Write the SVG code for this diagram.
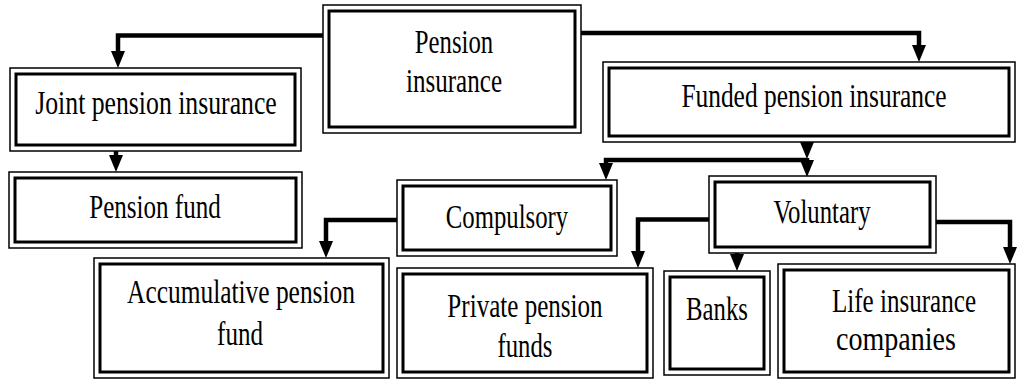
<svg xmlns="http://www.w3.org/2000/svg" width="1017" height="381" viewBox="0 0 1017 381">
<style>
.o{fill:#fff;stroke:#000;stroke-width:1.5}
.i{fill:none;stroke:#000;stroke-width:3}
.t{font-family:"Liberation Serif","Times New Roman",serif;font-size:33px;fill:#000;text-anchor:middle}
.c{fill:none;stroke:#000;stroke-width:4.5;stroke-linejoin:miter}
</style>
<defs>
<marker id="ah" markerUnits="userSpaceOnUse" markerWidth="17" markerHeight="14" refX="1" refY="7" orient="auto">
<path d="M0,0 L17,7 L0,14 z" fill="#000"/>
</marker>
</defs>
<rect width="1017" height="381" fill="#fff"/>
<g id="connectors">
<path class="c" d="M325,35.5 H118 V52" marker-end="url(#ah)"/>
<path class="c" d="M580,33 H919 V46" marker-end="url(#ah)"/>
<path class="c" d="M116,151 V156" marker-end="url(#ah)"/>
<path class="c" d="M807,142 V143" marker-end="url(#ah)"/>
<path class="c" d="M807,160 H606 V164" marker-end="url(#ah)"/>
<path class="c" d="M807,158 V161" marker-end="url(#ah)"/>
<path class="c" d="M398,220 H326 V242" marker-end="url(#ah)"/>
<path class="c" d="M710,219.5 H638 V252" marker-end="url(#ah)"/>
<path class="c" d="M737,253 V255" marker-end="url(#ah)"/>
<path class="c" d="M935,222 H1010 V248" marker-end="url(#ah)"/>
</g>
<g id="pension-insurance">
<rect class="o" x="323" y="5" width="258" height="128"/>
<rect class="i" x="329" y="11" width="246" height="116"/>
<text class="t" transform="translate(454,53) scale(0.75,1)">Pension</text>
<text class="t" transform="translate(454,92) scale(0.76,1)">insurance</text>
</g>
<g id="joint-pension-insurance">
<rect class="o" x="10" y="68" width="291" height="83"/>
<rect class="i" x="16" y="74" width="279" height="71"/>
<text class="t" transform="translate(156,114) scale(0.78,1)">Joint pension insurance</text>
</g>
<g id="pension-fund">
<rect class="o" x="9" y="172" width="293" height="76"/>
<rect class="i" x="15" y="178" width="281" height="64"/>
<text class="t" transform="translate(155,218) scale(0.76,1)">Pension fund</text>
</g>
<g id="funded-pension-insurance">
<rect class="o" x="603" y="62" width="412" height="80"/>
<rect class="i" x="609" y="68" width="400" height="68"/>
<text class="t" transform="translate(814,107) scale(0.77,1)">Funded pension insurance</text>
</g>
<g id="compulsory">
<rect class="o" x="397" y="180" width="220" height="76"/>
<rect class="i" x="403" y="186" width="208" height="64"/>
<text class="t" transform="translate(507,228) scale(0.75,1)">Compulsory</text>
</g>
<g id="voluntary">
<rect class="o" x="709" y="176" width="227" height="77"/>
<rect class="i" x="715" y="182" width="215" height="65"/>
<text class="t" transform="translate(822,223) scale(0.75,1)">Voluntary</text>
</g>
<g id="accumulative-pension-fund">
<rect class="o" x="94" y="258" width="295" height="120"/>
<rect class="i" x="100" y="264" width="283" height="108"/>
<text class="t" transform="translate(241,303) scale(0.77,1)">Accumulative pension</text>
<text class="t" transform="translate(240,345) scale(0.76,1)">fund</text>
</g>
<g id="private-pension-funds">
<rect class="o" x="397" y="268" width="256" height="110"/>
<rect class="i" x="403" y="274" width="244" height="98"/>
<text class="t" transform="translate(525,317) scale(0.76,1)">Private pension</text>
<text class="t" transform="translate(525,357) scale(0.75,1)">funds</text>
</g>
<g id="banks">
<rect class="o" x="664" y="271" width="106" height="104"/>
<rect class="i" x="670" y="277" width="94" height="92"/>
<text class="t" transform="translate(717,320) scale(0.75,1)">Banks</text>
</g>
<g id="life-insurance-companies">
<rect class="o" x="778" y="264" width="237" height="114"/>
<rect class="i" x="784" y="270" width="225" height="102"/>
<text class="t" transform="translate(904,312) scale(0.76,1)">Life insurance</text>
<text class="t" transform="translate(896,350) scale(0.85,1)">companies</text>
</g>
</svg>
